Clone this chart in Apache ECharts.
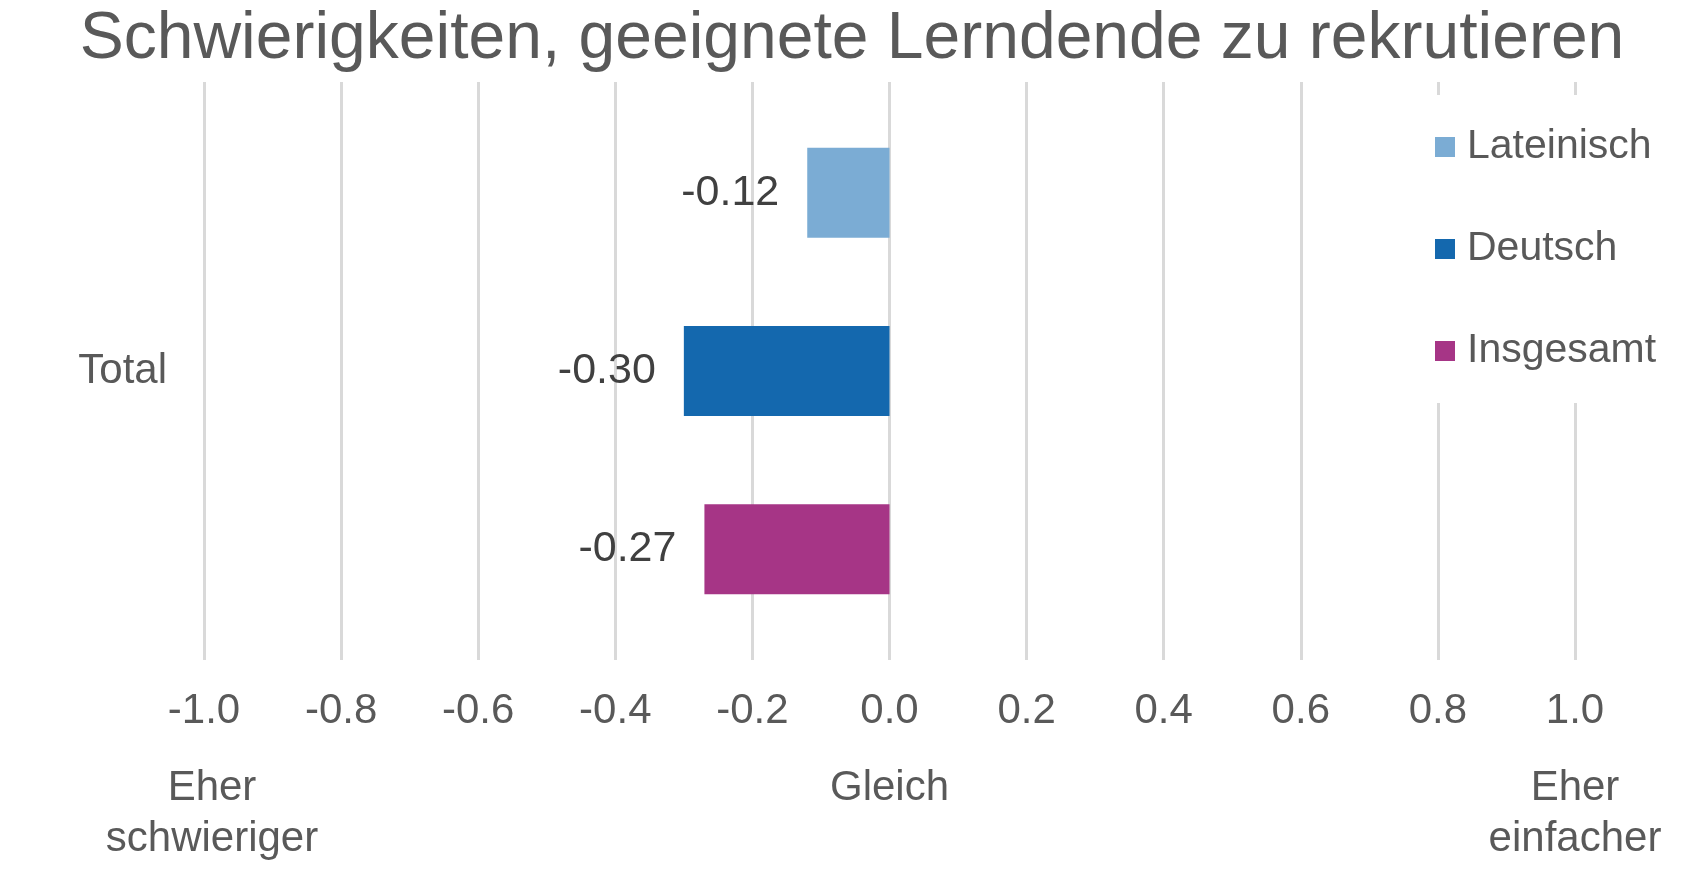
<!DOCTYPE html>
<html>
<head>
    <meta charset="utf-8" />
    <title>Schwierigkeiten, geeignete Lerndende zu rekrutieren</title>
    <script src="https://cdn.jsdelivr.net/npm/echarts@6/dist/echarts.min.js"></script>
    <style>
        * { margin: 0; padding: 0; box-sizing: border-box }
        body { background: #fff; width: 1704px; height: 879px; overflow: hidden }
        #chart { width: 1704px; height: 879px }
    </style>
</head>
<body>
    <div id="chart"></div>
    <script>
        const categories = ['Total'];
        const seriesNames = ['Lateinisch', 'Deutsch', 'Insgesamt'];
        const lateinisch = [-0.12];
        const deutsch = [-0.30];
        const insgesamt = [-0.27];
        const scaleNotes = { '-1.0': '{l|Eher\nschwieriger}', '0.0': 'Gleich', '1.0': 'Eher\neinfacher' };

        const font = "'Liberation Sans', Arial, sans-serif";
        const grey = '#595959';

        const chart = echarts.init(document.getElementById('chart'));

        function barSeries(name, data, color) {
            return {
                name: name,
                type: 'bar',
                data: data,
                barWidth: 90,
                barGap: '98%',
                itemStyle: { color: color },
                label: {
                    show: true,
                    position: 'left',
                    distance: 28,
                    fontFamily: font,
                    fontSize: 43,
                    color: '#404040',
                    formatter: p => p.value.toFixed(2)
                }
            };
        }

        const option = {
            animation: false,
            backgroundColor: '#fff',
            textStyle: { fontFamily: font },
            title: {
                text: 'Schwierigkeiten, geeignete Lerndende zu rekrutieren',
                left: 'center',
                top: 7,
                padding: 0,
                textStyle: { fontFamily: font, fontSize: 66, fontWeight: 'normal', color: grey }
            },
            legend: {
                orient: 'vertical',
                left: 1420,
                top: 95,
                padding: [30, 40, 30, 15],
                backgroundColor: '#fff',
                itemWidth: 20,
                itemHeight: 20,
                itemGap: 58,
                icon: 'rect',
                data: seriesNames,
                textStyle: { fontFamily: font, fontSize: 41, color: grey, lineHeight: 44, padding: [0, 0, 0, 7] }
            },
            grid: { left: 204, right: 129, top: 82, bottom: 219 },
            xAxis: [
                {
                    type: 'value',
                    min: -1,
                    max: 1,
                    interval: 0.2,
                    axisLine: { show: false },
                    axisTick: { show: false },
                    splitLine: { lineStyle: { color: '#d9d9d9', width: 3 } },
                    axisLabel: {
                        margin: 30,
                        fontFamily: font,
                        fontSize: 42,
                        color: grey,
                        formatter: v => v.toFixed(1)
                    }
                },
                {
                    type: 'value',
                    min: -1,
                    max: 1,
                    interval: 0.2,
                    position: 'bottom',
                    axisLine: { show: false },
                    axisTick: { show: false },
                    splitLine: { show: false },
                    axisLabel: {
                        margin: 103,
                        fontFamily: font,
                        fontSize: 42,
                        lineHeight: 51,
                        color: grey,
                        formatter: v => scaleNotes[v.toFixed(1)] || '',
                        rich: {
                            l: { fontFamily: font, fontSize: 42, lineHeight: 51, color: grey, padding: [0, 0, 0, 16] }
                        }
                    }
                }
            ],
            yAxis: {
                type: 'category',
                data: categories,
                axisLine: { show: false },
                axisTick: { show: false },
                axisLabel: { margin: 37, fontFamily: font, fontSize: 42, color: grey }
            },
            series: [
                barSeries(seriesNames[0], lateinisch, '#7bacd4'),
                barSeries(seriesNames[1], deutsch, '#1468ae'),
                barSeries(seriesNames[2], insgesamt, '#a63586')
            ]
        };

        chart.setOption(option);
    </script>
</body>
</html>
